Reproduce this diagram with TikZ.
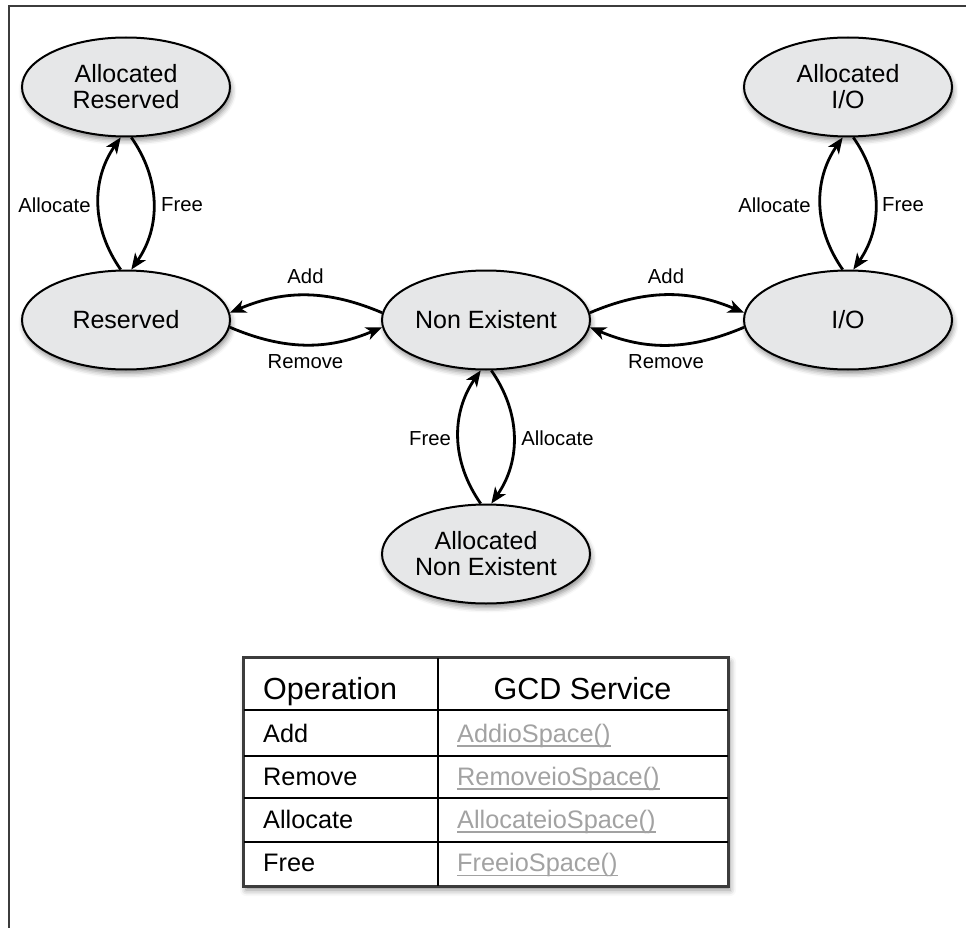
\documentclass[tikz,border=0pt]{standalone}
\usepackage{fontspec}
\setmainfont{Liberation Sans}
\usetikzlibrary{shapes.geometric,arrows.meta,shadows.blur}
\definecolor{statefill}{HTML}{E6E7E8}
\definecolor{linkgray}{HTML}{A2A2A2}
\definecolor{framegray}{HTML}{3C3C3C}
\begin{document}
\begin{tikzpicture}[x=1pt,y=1pt,
  state/.style={ellipse, draw=black, line width=2pt, fill=statefill,
    minimum width=208pt, minimum height=99pt, inner sep=0pt, align=center,
    font=\fontsize{25}{26}\selectfont,
    blur shadow={shadow xshift=1.5pt, shadow yshift=-4pt, shadow blur radius=5pt, shadow opacity=45}},
  trans/.style={line width=2.8pt, -{Stealth[length=16pt,width=13pt,inset=4.5pt]}},
  lbl/.style={font=\fontsize{20.3}{22}\selectfont, inner sep=0pt},
  tablebox/.style={draw=framegray, line width=1.8pt, fill=white, inner sep=0pt,
    minimum width=484pt, minimum height=228pt,
    blur shadow={shadow xshift=2pt, shadow yshift=-4pt, shadow blur radius=6pt, shadow opacity=45}},
  grid/.style={line width=2.2pt, black},
  hdr/.style={font=\fontsize{30.5}{32}\selectfont, inner sep=0pt},
  cell/.style={font=\fontsize{25.3}{27}\selectfont, inner sep=0pt, anchor=base west},
  link/.style={cell, text=linkgray},
  ulstyle/.style={draw=linkgray, line width=1.3pt},
  frame/.style={draw=framegray, line width=1.5pt}
]
\useasboundingbox (0,0) rectangle (966,-928);
\draw[frame] (966,-6) -- (9,-6) -- (9,-928);

% states
\node[state] (AR)  at (126,-87)  {Allocated\\Reserved};
\node[state] (R)   at (126,-320) {Reserved};
\node[state] (NE)  at (486,-320) {Non Existent};
\node[state] (IO)  at (848,-320) {I/O};
\node[state] (AIO) at (848,-87)  {Allocated\\I/O};
\node[state] (ANE) at (486,-554) {Allocated\\Non Existent};

% transitions
\draw[trans] (R.96) to[bend left=35] (AR.264);
\draw[trans] (AR.276) to[bend left=35] (R.84);
\draw[trans] (NE.176) to[bend right=23] (R.4);
\draw[trans] (R.-4) to[bend right=23] (NE.184);
\draw[trans] (NE.4) to[bend left=23] (IO.176);
\draw[trans] (IO.184) to[bend left=23] (NE.-4);
\draw[trans] (ANE.96) to[bend left=35] (NE.264);
\draw[trans] (NE.276) to[bend left=35] (ANE.84);
\draw[trans] (IO.96) to[bend left=35] (AIO.264);
\draw[trans] (AIO.276) to[bend left=35] (IO.84);

% transition labels
\node[lbl] (l1)  at (54.5,-205)  {Allocate};
\node[lbl] (l2)  at (182,-205)   {Free};
\node[lbl] (l3)  at (305.5,-276.5) {Add};
\node[lbl] (l4)  at (305.5,-361.5) {Remove};
\node[lbl] (l5)  at (666,-276.5) {Add};
\node[lbl] (l6)  at (666,-362)   {Remove};
\node[lbl] (l7)  at (430,-438.5) {Free};
\node[lbl] (l8)  at (557.5,-438.5) {Allocate};
\node[lbl] (l9)  at (774.5,-205) {Allocate};
\node[lbl] (l10) at (903,-205)   {Free};

% table
\node[tablebox] (tbl) at (486,-772) {};
\draw[grid] (438,-658) -- (438,-886);
\draw[grid] (244,-710) -- (728,-710);
\draw[grid] (244,-756) -- (728,-756);
\draw[grid] (244,-798) -- (728,-798);
\draw[grid] (244,-842) -- (728,-842);
\draw[draw=framegray, line width=1.8pt] (tbl.north west) rectangle (tbl.south east);

\node[hdr, anchor=base west] (h1) at (263,-699) {Operation};
\node[hdr, anchor=base] (h2) at (582.5,-699) {GCD Service};

\node[cell] (o1) at (263,-742) {Add};
\node[cell] (o2) at (263,-785) {Remove};
\node[cell] (o3) at (263,-828) {Allocate};
\node[cell] (o4) at (263,-871.5) {Free};

\node[link] (s1) at (457,-742) {AddioSpace()};
\node[link] (s2) at (457,-785) {RemoveioSpace()};
\node[link] (s3) at (457,-828) {AllocateioSpace()};
\node[link] (s4) at (457,-871.5) {FreeioSpace()};
\foreach \s in {s1,s2,s3,s4}
  \draw[ulstyle] ([yshift=-4pt]\s.base west) -- ([yshift=-4pt]\s.base east);
\end{tikzpicture}
\end{document}
